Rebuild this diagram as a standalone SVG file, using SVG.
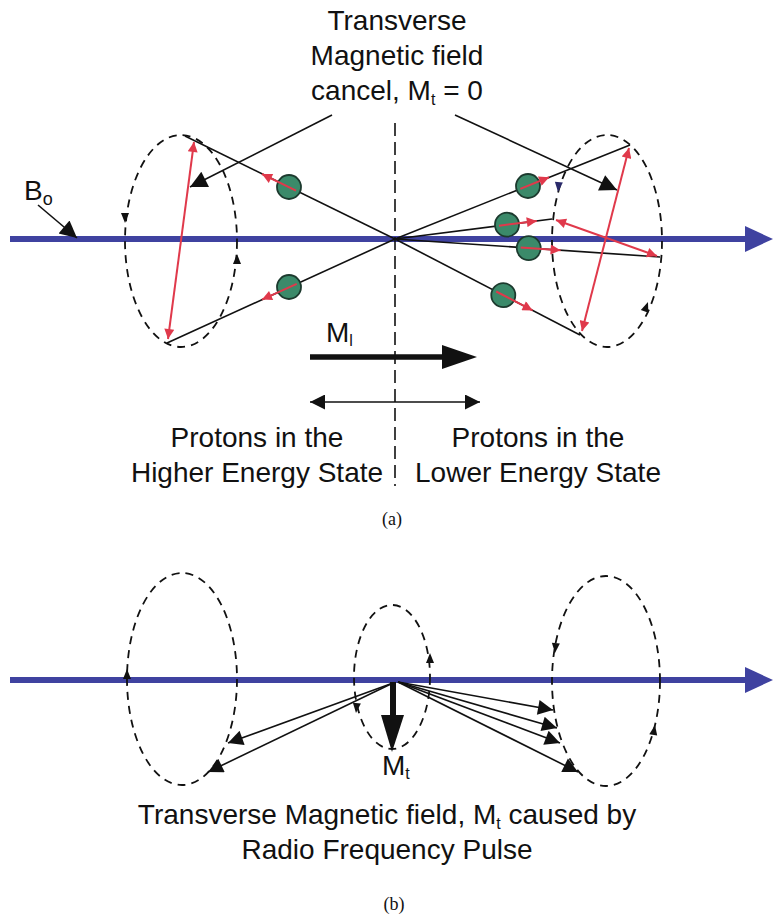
<svg xmlns="http://www.w3.org/2000/svg" width="773" height="917" viewBox="0 0 773 917">
<defs>
<style>
.t{font-family:"Liberation Sans",Arial,sans-serif;font-size:28px;fill:#111;}
.cap{font-family:"Liberation Serif","DejaVu Serif",serif;font-size:18px;fill:#111;}
.ax{stroke:#3f42a0;stroke-width:6;fill:none;}
.axh{fill:#3f42a0;}
.el{fill:none;stroke:#111;stroke-width:1.8;stroke-dasharray:8 6;}
.bl{stroke:#111;stroke-width:1.6;fill:none;}
.rd{stroke:#e0394b;stroke-width:2;fill:none;}
.gc{fill:#3b8a6a;stroke:#1c3a2e;stroke-width:1.8;}
.ptr{stroke:#111;stroke-width:1.6;fill:none;marker-end:url(#big);}
.vec{stroke:#111;stroke-width:1.6;fill:none;marker-end:url(#blk);}
</style>
<marker id="big" viewBox="0 0 10 10" refX="10" refY="5" markerUnits="userSpaceOnUse" markerWidth="26" markerHeight="17" orient="auto"><path d="M0,0 L10,5 L0,10 Z" fill="#111"/></marker>
<marker id="blk" viewBox="0 0 10 10" refX="10" refY="5" markerUnits="userSpaceOnUse" markerWidth="24" markerHeight="15" orient="auto"><path d="M0,0 L10,5 L0,10 Z" fill="#111"/></marker>
<marker id="red" viewBox="0 0 10 10" refX="10" refY="5" markerUnits="userSpaceOnUse" markerWidth="15" markerHeight="10" orient="auto-start-reverse"><path d="M0,0 L10,5 L0,10 Z" fill="#e0394b"/></marker>
<marker id="dbl" viewBox="0 0 10 10" refX="10" refY="5" markerUnits="userSpaceOnUse" markerWidth="24" markerHeight="15" orient="auto-start-reverse"><path d="M0,0 L10,5 L0,10 Z" fill="#111"/></marker>
<path id="tri" d="M0,0 L-10,-4 L-10,4 Z" fill="#111"/>
<path id="trin" d="M0,0 L-10,-4 L-10,4 Z" fill="#2a2a6a"/>
</defs>
<rect width="773" height="917" fill="#fff"/>

<!-- ===== Part (a) ===== -->
<g id="axis-a">
<line class="ax" x1="10" y1="239" x2="748" y2="239"/>
<polygon class="axh" points="745,226 773,239 745,252"/>
</g>
<g id="center-line">
<line x1="395" y1="123" x2="395" y2="486" stroke="#111" stroke-width="1.6" stroke-dasharray="13 6"/>
</g>

<g id="left-cone-a">
<ellipse class="el" cx="181" cy="241" rx="56" ry="106"/>
<use href="#tri" transform="translate(125,223) rotate(90)"/>
<use href="#tri" transform="translate(237,254) rotate(-90)"/>
</g>
<g id="right-cone-a">
<ellipse class="el" cx="607" cy="241" rx="55" ry="106"/>
<use href="#trin" transform="translate(558,192) rotate(95)"/>
<use href="#tri" transform="translate(648,302) rotate(-70)"/>
</g>

<g id="connectors">
<line class="bl" x1="185" y1="136" x2="395" y2="239"/>
<line class="bl" x1="167" y1="343" x2="395" y2="239"/>
<line class="bl" x1="395" y1="239" x2="630" y2="145"/>
<line class="bl" x1="395" y1="239" x2="552" y2="219"/>
<line class="bl" x1="395" y1="239" x2="660" y2="257"/>
<line class="bl" x1="395" y1="239" x2="580" y2="335"/>
<line class="ptr" x1="332" y1="115" x2="190" y2="187"/>
<line class="ptr" x1="455" y1="115" x2="617" y2="190"/>
<line class="ptr" x1="38" y1="205" x2="77" y2="238"/>
<line class="rd" x1="194" y1="142" x2="168" y2="339" marker-start="url(#red)" marker-end="url(#red)"/>
<line class="rd" x1="629" y1="148" x2="582" y2="331" marker-start="url(#red)" marker-end="url(#red)"/>
<line class="rd" x1="556" y1="220" x2="657" y2="256" marker-start="url(#red)" marker-end="url(#red)"/>
</g>

<g id="protons-higher">
<circle class="gc" cx="289" cy="187" r="12"/>
<circle class="gc" cx="289" cy="287" r="12"/>
<line class="rd" x1="296" y1="190.6" x2="262" y2="174" marker-end="url(#red)"/>
<line class="rd" x1="296.7" y1="283.8" x2="262" y2="299.6" marker-end="url(#red)"/>
</g>
<g id="protons-lower">
<circle class="gc" cx="528" cy="186" r="12"/>
<circle class="gc" cx="507" cy="224.7" r="12"/>
<circle class="gc" cx="528.7" cy="248.1" r="12"/>
<circle class="gc" cx="503.3" cy="295.2" r="12"/>
<line class="rd" x1="520.3" y1="188.9" x2="549.1" y2="177.3" marker-end="url(#red)"/>
<line class="rd" x1="499" y1="225.7" x2="536.8" y2="220.9" marker-end="url(#red)"/>
<line class="rd" x1="520.7" y1="247.5" x2="560.6" y2="250.3" marker-end="url(#red)"/>
<line class="rd" x1="496.2" y1="291.5" x2="532.6" y2="310.4" marker-end="url(#red)"/>
</g>

<g id="label-transverse-a">
<text class="t" x="397" y="30" text-anchor="middle">Transverse</text>
<text class="t" x="397" y="65" text-anchor="middle">Magnetic field</text>
<text class="t" x="397" y="100" text-anchor="middle">cancel, M<tspan font-size="16" dy="5">t</tspan><tspan dy="-5"> = 0</tspan></text>
</g>
<g id="label-bo">
<text class="t" x="24" y="200" font-size="25">B<tspan font-size="18" dy="5">o</tspan></text>
</g>

<g id="ml-arrow">
<line x1="310" y1="357" x2="444" y2="357" stroke="#111" stroke-width="5.5"/>
<polygon points="442,345 477,357 442,369" fill="#111"/>
<text class="t" x="326" y="342" font-size="26">M<tspan font-size="16" dy="4">l</tspan></text>
</g>
<g id="range-arrow">
<line x1="310" y1="402" x2="480" y2="402" stroke="#111" stroke-width="1.6" marker-start="url(#dbl)" marker-end="url(#dbl)"/>
</g>
<g id="label-higher">
<text class="t" x="257" y="447" text-anchor="middle">Protons in the</text>
<text class="t" x="257" y="482" text-anchor="middle">Higher Energy State</text>
</g>
<g id="label-lower">
<text class="t" x="538" y="447" text-anchor="middle">Protons in the</text>
<text class="t" x="538" y="482" text-anchor="middle">Lower Energy State</text>
</g>
<text class="cap" x="392" y="525" text-anchor="middle">(a)</text>

<!-- ===== Part (b) ===== -->
<g id="axis-b">
<line class="ax" x1="10" y1="680" x2="748" y2="680"/>
<polygon class="axh" points="745,667 773,680 745,693"/>
</g>
<g id="left-cone-b">
<ellipse class="el" cx="182" cy="679" rx="55" ry="106"/>
<use href="#tri" transform="translate(127,669) rotate(-90)"/>
</g>
<g id="center-cone-b">
<ellipse class="el" cx="392" cy="677" rx="38" ry="72"/>
<use href="#tri" transform="translate(430,653) rotate(-90)"/>
<use href="#tri" transform="translate(356,713) rotate(95)"/>
</g>
<g id="right-cone-b">
<ellipse class="el" cx="606" cy="681" rx="54" ry="105"/>
<use href="#tri" transform="translate(555,653) rotate(95)"/>
<use href="#tri" transform="translate(655,725) rotate(-80)"/>
</g>
<g id="vectors-b">
<line class="vec" x1="393" y1="683" x2="228" y2="743"/>
<line class="vec" x1="393" y1="683" x2="208" y2="772"/>
<line class="vec" x1="398" y1="682" x2="553" y2="710"/>
<line class="vec" x1="398" y1="682" x2="557" y2="728"/>
<line class="vec" x1="398" y1="682" x2="560" y2="743"/>
<line class="vec" x1="398" y1="682" x2="578" y2="772"/>
</g>
<g id="mt-arrow">
<line x1="393" y1="682" x2="393" y2="718" stroke="#111" stroke-width="6"/>
<polygon points="381,715 404,715 392,752" fill="#111"/>
<text class="t" x="382" y="775" font-size="26">M<tspan font-size="16" dy="4">t</tspan></text>
</g>
<g id="label-transverse-b">
<text class="t" x="387" y="824" text-anchor="middle">Transverse Magnetic field, M<tspan font-size="16" dy="5">t</tspan><tspan dy="-5"> caused by</tspan></text>
<text class="t" x="387" y="859" text-anchor="middle">Radio Frequency Pulse</text>
</g>
<text class="cap" x="394" y="910" text-anchor="middle">(b)</text>
</svg>
